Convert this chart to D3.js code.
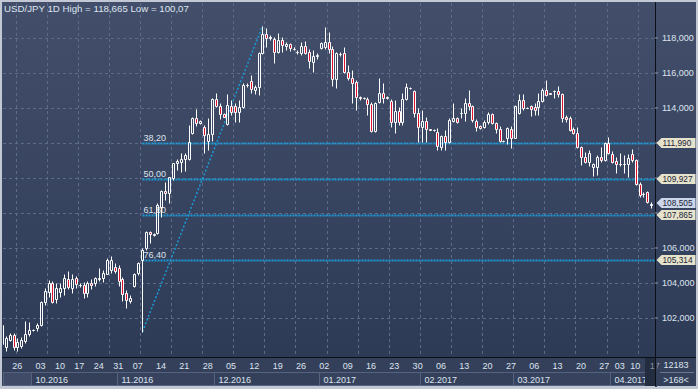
<!DOCTYPE html>
<html lang="en">
<head>
<meta charset="UTF-8">
<title>USD/JPY 1D</title>
<style>
  body { margin: 0; background: #2e3a55; overflow: hidden; }
  svg { display: block; font-family: "Liberation Sans", Arial, sans-serif; }
  .lbl { fill: #dde4ef; font-size: 9px; }
</style>
</head>
<body>
<svg id="chart" width="698" height="389"></svg>
<script src="https://d3js.org/d3.v7.min.js"></script>
<script>
// daily candles, 168 bars (last one is the current bar)
const opens = [100.50,100.30,100.71,100.98,100.31,100.37,100.66,101.06,101.28,101.40,101.57,102.90,103.47,103.97,103.06,103.47,103.69,104.20,103.69,104.23,103.86,103.86,103.42,103.99,103.95,104.22,104.24,104.51,104.71,104.86,104.83,104.18,103.38,102.94,103.82,104.52,105.29,105.95,106.90,106.74,106.81,108.33,109.23,109.10,109.95,110.81,110.90,111.04,111.04,112.53,113.38,113.10,112.91,112.09,112.49,114.47,114.09,113.61,113.06,114.09,114.09,113.76,114.01,115.28,115.51,114.99,115.19,117.14,118.18,118.00,117.90,117.15,117.86,117.51,117.63,117.37,117.15,117.10,117.51,117.19,116.62,116.97,117.38,117.46,117.76,117.37,115.61,117.06,117.13,116.05,115.67,115.47,114.58,114.53,114.47,114.20,112.67,114.33,114.81,114.52,114.39,113.15,113.80,113.19,114.47,115.10,114.96,113.71,112.86,113.23,112.75,112.71,112.58,111.76,112.37,112.05,113.25,113.38,113.66,113.67,114.24,114.09,113.25,112.94,112.90,113.15,113.61,113.10,112.75,112.06,112.24,112.75,112.27,113.67,114.43,113.99,114.09,114.05,114.01,114.39,115.00,114.81,114.94,114.94,114.75,113.44,113.38,112.75,112.56,111.76,111.19,110.90,110.62,110.62,111.19,111.00,111.99,111.34,110.94,110.77,110.76,110.77,111.34,111.00,109.63,109.06,109.15,108.45];
const highs = [101.76,100.94,101.13,101.09,100.83,100.91,101.82,101.77,101.34,101.67,102.96,103.67,104.14,104.11,103.95,103.95,104.49,104.66,104.49,104.37,103.95,104.05,104.10,104.18,104.33,104.83,104.71,105.40,105.54,105.11,105.00,104.33,103.57,103.29,104.56,105.19,105.95,106.96,106.96,106.82,108.53,109.29,109.76,110.05,110.85,111.04,111.38,111.38,113.00,113.47,113.90,113.29,113.00,113.38,114.57,114.85,114.27,113.70,114.77,114.43,114.24,114.43,115.38,115.38,115.86,115.29,117.19,118.665,118.53,118.14,118.05,118.24,118.05,117.76,117.67,117.43,117.26,117.76,117.82,117.33,117.29,117.13,117.76,118.60,118.33,117.51,117.19,117.17,117.47,116.43,116.14,115.57,114.66,114.60,114.62,114.33,114.33,115.67,115.38,114.65,114.47,114.43,114.01,114.85,115.38,115.16,115.00,113.95,113.86,113.44,112.80,112.77,112.81,112.43,112.71,113.38,114.24,113.47,113.95,114.53,115.00,114.14,113.33,113.00,113.29,113.76,113.70,113.19,112.94,112.14,112.90,112.94,114.14,114.75,114.77,114.03,114.14,114.24,114.81,115.10,115.57,114.85,115.00,115.23,114.85,113.57,113.51,112.90,112.87,111.80,111.47,111.57,110.84,111.29,111.76,112.05,112.30,111.53,111.19,111.42,111.29,111.34,111.61,111.04,109.76,109.19,109.24,108.58];
const lows = [100.14,100.07,100.66,100.14,100.08,100.26,100.54,100.94,101.24,101.23,101.52,102.71,103.19,102.85,102.81,103.19,103.29,103.63,103.40,103.71,103.74,103.10,103.19,103.61,103.80,104.10,104.05,104.46,104.54,104.53,103.80,102.96,102.52,102.85,103.76,104.43,101.19,105.86,106.24,106.68,106.75,107.76,108.71,108.56,109.86,110.43,110.30,110.37,111.00,112.49,112.96,113.06,111.38,111.57,112.09,114.03,113.32,113.44,113.00,113.57,113.19,113.19,113.95,115.19,114.83,114.77,114.71,117.06,117.47,117.86,116.56,117.10,117.17,117.29,117.23,117.26,117.06,117.00,117.06,116.24,116.05,116.77,117.33,117.33,117.10,115.23,115.10,116.94,115.95,115.57,114.24,113.86,114.43,114.46,113.57,112.62,112.62,114.24,114.24,114.50,112.86,112.53,113.00,113.00,114.43,115.07,113.44,112.05,112.05,112.05,112.70,112.66,111.57,111.57,111.57,111.95,113.19,113.13,113.38,113.25,113.86,113.19,112.66,112.75,112.81,113.06,113.04,112.56,112.05,112.03,111.90,111.70,112.24,113.63,113.86,113.95,113.51,113.57,113.57,114.33,114.66,114.77,114.54,114.62,113.19,113.19,112.67,112.49,111.67,110.71,110.84,110.66,110.09,110.14,110.90,110.96,111.34,110.81,110.27,110.67,110.24,110.05,110.90,109.57,108.90,108.90,108.56,108.24];
const closes = [101.60,100.81,100.98,100.29,100.60,100.71,101.03,101.31,101.30,101.57,102.90,103.53,103.99,102.91,103.67,103.67,104.24,103.74,104.20,103.89,103.83,103.40,103.95,103.86,104.24,104.25,104.52,105.31,105.29,104.66,104.09,103.36,102.99,103.10,104.47,105.10,105.86,106.90,106.75,106.76,108.43,109.23,109.10,110.01,110.81,110.96,111.06,111.29,112.05,113.38,113.10,113.25,112.43,112.49,114.47,114.09,113.63,113.47,114.14,113.76,113.76,114.01,115.29,115.30,115.04,115.19,117.14,118.18,117.95,118.01,117.15,117.86,117.57,117.63,117.38,117.36,117.16,117.51,117.14,116.63,116.94,116.98,117.67,117.76,117.33,115.61,117.09,117.07,116.05,115.67,115.38,114.58,114.57,114.52,114.20,112.67,114.27,114.81,114.53,114.62,113.15,113.80,113.19,114.47,115.15,115.13,113.71,112.86,113.23,112.75,112.74,112.72,111.80,112.37,112.05,113.29,113.38,113.19,113.67,114.24,114.09,113.29,112.90,112.81,113.15,113.61,113.10,112.75,112.09,112.10,112.81,112.27,114.09,114.43,113.95,114.00,113.90,113.86,114.39,115.00,114.71,114.80,114.95,114.75,113.38,113.33,112.71,112.56,111.72,111.19,110.90,111.42,110.75,111.19,111.00,111.99,111.42,110.90,110.75,110.76,110.78,111.13,111.00,109.63,109.00,109.05,108.62,108.505];

// date axis: candle index of each day label
const dayTicks  = [2, 8, 13, 18, 23, 28, 33, 39, 45, 51, 57, 63, 69, 75, 81, 87, 93, 99, 105, 111, 117, 123, 129, 135, 141, 147, 153, 157, 161, 166];
const dayLabels = ["26","03","10","17","24","31","07","14","21","28","05","12","19","26","02","09","16","23","30","06","13","20","27","06","13","20","27","03","10","17"];
const monthStarts = [8, 30, 55, 82, 108, 132, 157];
const monthLabels = ["10.2016","11.2016","12.2016","01.2017","02.2017","03.2017","04.2017"];

const priceTicks = [102, 104, 106, 108, 110, 112, 114, 116, 118];

// fibonacci retracement drawn from the election-day low to the december high
const fibFrom = { i: 36, v: 101.18995 };
const fibTo   = { i: 67, v: 118.665 };
const fibRatios = [0.382, 0.5, 0.618, 0.764];
const fibNames  = ["38,20", "50,00", "61,80", "76,40"];

const W = 698, H = 389;
const plot = { left: 3, right: 655, top: 3, bottom: 357 };

const svg = d3.select("#chart");
const n = closes.length;

const x = d3.scaleBand()
    .domain(d3.range(n))
    .range([0.5, 0.5 + n * 3.888]);
const y = d3.scaleLinear()
    .domain([102, 118])
    .range([317.5, 37.5]);

const cx = i => Math.floor(x(i) + x.bandwidth() / 2) + 0.5;
const py = v => Math.round(y(v)) + 0.5;
const fmt = v => d3.format(".3f")(v).replace(".", ",");

// backgrounds
const defs = svg.append("defs");
const grad = defs.append("linearGradient").attr("id", "bg").attr("x1", 0).attr("y1", 0).attr("x2", 0).attr("y2", 1);
grad.append("stop").attr("offset", "0%").attr("stop-color", "#434f6a");
grad.append("stop").attr("offset", "100%").attr("stop-color", "#2c3955");
defs.append("clipPath").attr("id", "clip").append("rect")
    .attr("x", plot.left).attr("y", plot.top)
    .attr("width", plot.right - plot.left).attr("height", plot.bottom - plot.top);

svg.append("rect").attr("width", W).attr("height", H).attr("fill", "#c3c9d4");
svg.append("rect").attr("x", 2).attr("y", 2).attr("width", W - 4).attr("height", H - 5).attr("fill", "url(#bg)");

// grid
const grid = svg.append("g").attr("clip-path", "url(#clip)")
    .attr("stroke", "#5d6b88").attr("stroke-dasharray", "3,3").attr("stroke-width", 1);
grid.selectAll(".hg").data(priceTicks).enter().append("line")
    .attr("x1", plot.left).attr("x2", plot.right)
    .attr("y1", d => py(d)).attr("y2", d => py(d));
grid.selectAll(".vg").data(d3.range(4, n, 8)).enter().append("line")
    .attr("x1", d => Math.floor(x(d)) + 0.5).attr("x2", d => Math.floor(x(d)) + 0.5)
    .attr("y1", plot.top).attr("y2", plot.bottom);

// fibonacci levels
const fibLevels = fibRatios.map(r => fibTo.v - r * (fibTo.v - fibFrom.v));
const fib = svg.append("g").attr("clip-path", "url(#clip)");
fib.selectAll("line.lvl").data(fibLevels).enter().append("line")
    .attr("x1", cx(fibFrom.i)).attr("x2", plot.right)
    .attr("y1", d => py(d)).attr("y2", d => py(d))
    .attr("stroke", "#1b9ad8").attr("stroke-width", 2).attr("stroke-dasharray", "2,1");
fib.append("line")
    .attr("x1", cx(fibFrom.i)).attr("y1", y(fibFrom.v))
    .attr("x2", cx(fibTo.i)).attr("y2", y(fibTo.v))
    .attr("stroke", "#1b9ad8").attr("stroke-width", 1.5).attr("stroke-dasharray", "2,2");
fib.selectAll("text").data(fibLevels).enter().append("text")
    .attr("class", "lbl").attr("fill", "#c9d2e2")
    .attr("x", cx(fibFrom.i) + 1).attr("y", d => py(d) - 3)
    .text((d, i) => fibNames[i]);

// candles
const candles = svg.append("g").attr("clip-path", "url(#clip)");
const bars = candles.selectAll("g").data(d3.range(n)).enter().append("g");
bars.append("line")
    .attr("x1", cx).attr("x2", cx)
    .attr("y1", i => py(highs[i])).attr("y2", i => py(Math.max(opens[i], closes[i])))
    .attr("stroke", "#fff");
bars.append("line")
    .attr("x1", cx).attr("x2", cx)
    .attr("y1", i => py(Math.min(opens[i], closes[i]))).attr("y2", i => py(lows[i]))
    .attr("stroke", "#fff");
bars.append("path")
    .attr("d", i => {
        const t = py(Math.max(opens[i], closes[i]));
        const b = py(Math.min(opens[i], closes[i]));
        const l = cx(i) - 1;
        return `M${l},${t}h2v${b - t}h-2Z`;
    })
    .attr("fill", i => closes[i] < opens[i] ? "#e0112b" : "none")
    .attr("stroke", "#fff");

// price flags (fib levels + last close)
const flags = fibLevels.map(v => ({ v, c: "#e6e3cc", dy: 0 }))
    .concat([{ v: closes[n - 1], c: "#ccd6ea", dy: -1 }]);

// right price axis; labels under a flag are hidden like in the terminal
svg.append("line").attr("x1", plot.right + 0.5).attr("x2", plot.right + 0.5)
    .attr("y1", 2).attr("y2", plot.bottom + 1).attr("stroke", "#0b0f18");
const yAxis = svg.append("g")
    .attr("transform", `translate(${plot.right},0)`)
    .call(d3.axisRight(y).tickValues(priceTicks).tickSize(3).tickFormat(fmt));
yAxis.select(".domain").remove();
yAxis.selectAll("line").attr("stroke", "#8e9ab0");
yAxis.selectAll(".tick")
    .filter(d => flags.some(f => Math.abs(y(f.v) - y(d)) < 10))
    .select("text").remove();
yAxis.selectAll("text").attr("class", "lbl").attr("x", 7).attr("fill", "#dde4ef")
    .style("font-family", "Liberation Sans, Arial, sans-serif");

const fl = svg.append("g").selectAll("g").data(flags).enter().append("g")
    .attr("transform", d => `translate(${plot.right + 1.5},${py(d.v) - 0.5 + d.dy})`);
fl.append("path")
    .attr("d", "M0,0L5,-5H39V5H5Z")
    .attr("fill", d => d.c);
fl.append("text").attr("x", 6).attr("y", 3)
    .attr("fill", "#1a2235").attr("font-size", "8.3px")
    .text(d => fmt(d.v));

// bottom date axis
svg.append("line").attr("x1", 2).attr("x2", W - 2)
    .attr("y1", plot.bottom + 0.5).attr("y2", plot.bottom + 0.5).attr("stroke", "#0b0f18");
svg.append("rect").attr("x", 2).attr("y", plot.bottom + 1).attr("width", W - 4).attr("height", H - plot.bottom - 4)
    .attr("fill", "#34405a");

const monthRow = svg.append("g");
const mEdges = monthStarts.map(i => Math.floor(x(i)) + 0.5);
monthRow.append("rect").attr("x", 3.5).attr("y", 372.5).attr("width", mEdges[0] - 3.5).attr("height", 13)
    .attr("fill", "#3f4b67").attr("stroke", "#56637f");
monthRow.selectAll("rect.m").data(monthStarts).enter().append("rect")
    .attr("x", (d, i) => mEdges[i]).attr("y", 372.5)
    .attr("width", (d, i) => (i < mEdges.length - 1 ? mEdges[i + 1] : 645.5) - mEdges[i])
    .attr("height", 13)
    .attr("fill", (d, i) => i % 2 ? "#37435e" : "#34405a").attr("stroke", "#56637f");
monthRow.selectAll("text").data(monthStarts).enter().append("text")
    .attr("class", "lbl").attr("x", (d, i) => mEdges[i] + 4).attr("y", 382.5)
    .text((d, i) => monthLabels[i]);
svg.append("rect").attr("x", 645).attr("y", plot.bottom + 1).attr("width", 10).attr("height", 28).attr("fill", "#242c3f");

const xAxis = svg.append("g")
    .attr("transform", `translate(0,${plot.bottom})`)
    .call(d3.axisBottom(x).tickValues(dayTicks).tickSize(0)
        .tickFormat((d, i) => dayLabels[i]));
xAxis.select(".domain").remove();
xAxis.selectAll("text").attr("class", "lbl").attr("text-anchor", "start")
    .attr("x", x.bandwidth() / 2).attr("dy", 0).attr("y", 12)
    .attr("fill-opacity", d => d > 163 ? 0.55 : 1);
svg.append("rect").attr("x", plot.right).attr("y", plot.bottom + 1).attr("width", 2).attr("height", 29).attr("fill", "#34405a");

// bottom-right info box
svg.append("line").attr("x1", plot.right + 0.5).attr("x2", plot.right + 0.5)
    .attr("y1", plot.bottom).attr("y2", H - 3).attr("stroke", "#0b0f18");
svg.append("line").attr("x1", 660).attr("x2", 694).attr("y1", 372.5).attr("y2", 372.5).attr("stroke", "#6c7893");
svg.append("text").attr("class", "lbl").attr("x", 676).attr("y", 368).attr("text-anchor", "middle").text("12183");
svg.append("text").attr("class", "lbl").attr("x", 676).attr("y", 383).attr("text-anchor", "middle").text(">168<");

// title
svg.append("text").attr("class", "lbl").attr("x", 4).attr("y", 11.5).style("font-size", "9.7px")
    .text(`USD/JPY 1D High = ${fmt(d3.max(highs))} Low = ${d3.format(".2f")(d3.min(lows)).replace(".", ",")}`);
</script>
</body>
</html>
